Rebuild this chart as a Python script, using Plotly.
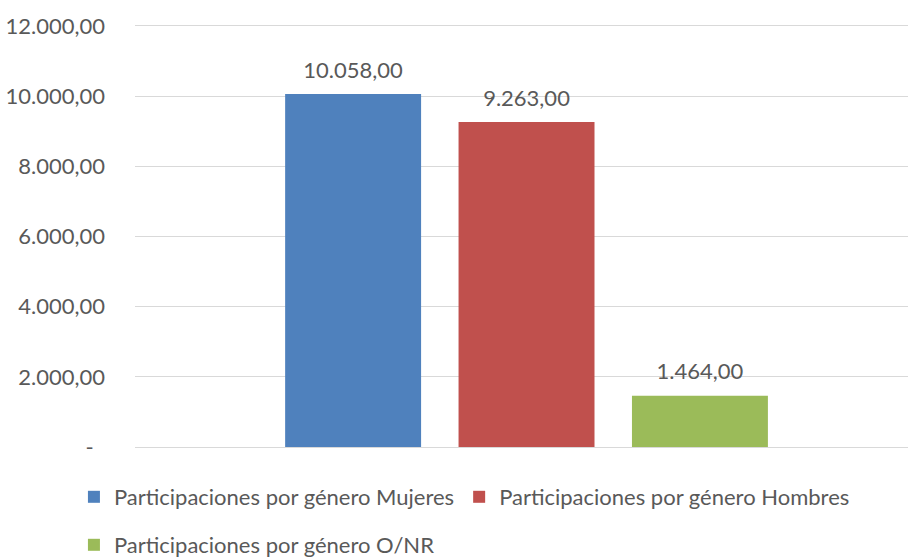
import plotly.graph_objects as go

categories = ["Participaciones por género"]
series_names = [
    "Participaciones por género Mujeres",
    "Participaciones por género Hombres",
    "Participaciones por género O/NR",
]
series_values = [10058, 9263, 1464]
series_colors = ["#4F81BD", "#C0504D", "#9BBB59"]
tick_values = [0, 2000, 4000, 6000, 8000, 10000, 12000]
tick_labels = ["-\u00a0\u00a0", "2.000,00", "4.000,00", "6.000,00", "8.000,00", "10.000,00", "12.000,00"]

FONT = "Lato"
TXT = "#595959"
FS = 22

fig = go.Figure()
legends = ["legend", "legend", "legend2"]
groups = ["g1", "g2", "g3"]
for name, val, col, lg, g in zip(series_names, series_values, series_colors, legends, groups):
    fig.add_trace(go.Bar(
        x=categories, y=[val], name=name, offsetgroup=g,
        marker=dict(color=col, line=dict(width=0)),
        legend=lg,
    ))
for name, val, g in zip(series_names, series_values, groups):
    fig.add_trace(go.Scatter(
        x=categories, y=[val], name=name, offsetgroup=g,
        mode="markers+text", texttemplate="%{y:,.2f}", textposition="top center",
        marker=dict(size=16, opacity=0),
        textfont=dict(family=FONT, size=FS, color=TXT),
        showlegend=False, hoverinfo="skip", cliponaxis=False,
    ))

W, H = 908, 557
L, R, T, B = 135, 0, 20, 110
ph = H - T - B

fig.update_layout(
    width=W, height=H,
    margin=dict(l=L, r=R, t=T, b=B, pad=0, autoexpand=False),
    paper_bgcolor="white", plot_bgcolor="white",
    separators=",.",
    barmode="group", bargap=0.327, bargroupgap=0.216,
    scattermode="group", scattergap=0.327,
    font=dict(family=FONT, size=FS, color=TXT),
    xaxis=dict(range=[-0.5065, 0.4935], showticklabels=False, showgrid=False,
               zeroline=False, showline=False, ticks=""),
    yaxis=dict(range=[0, 12170], tickvals=tick_values, ticktext=tick_labels,
               showgrid=True, gridcolor="#D9D9D9", gridwidth=1.3,
               zeroline=True, zerolinecolor="#D9D9D9", zerolinewidth=1.3,
               showline=False, ticks="", ticklabelstandoff=29,
               tickfont=dict(family=FONT, size=FS, color=TXT)),
    showlegend=True,
    legend=dict(orientation="h", x=-0.079, xanchor="left", y=(447 - 497) / ph, yanchor="middle",
                font=dict(family=FONT, size=FS, color=TXT), bgcolor="rgba(0,0,0,0)",
                traceorder="normal"),
    legend2=dict(orientation="h", x=-0.079, xanchor="left", y=(447 - 545) / ph, yanchor="middle",
                 font=dict(family=FONT, size=FS, color=TXT), bgcolor="rgba(0,0,0,0)"),
)

fig.write_html("out.html", config={"displayModeBar": False},
               post_script="document.body.style.margin='0px';")
